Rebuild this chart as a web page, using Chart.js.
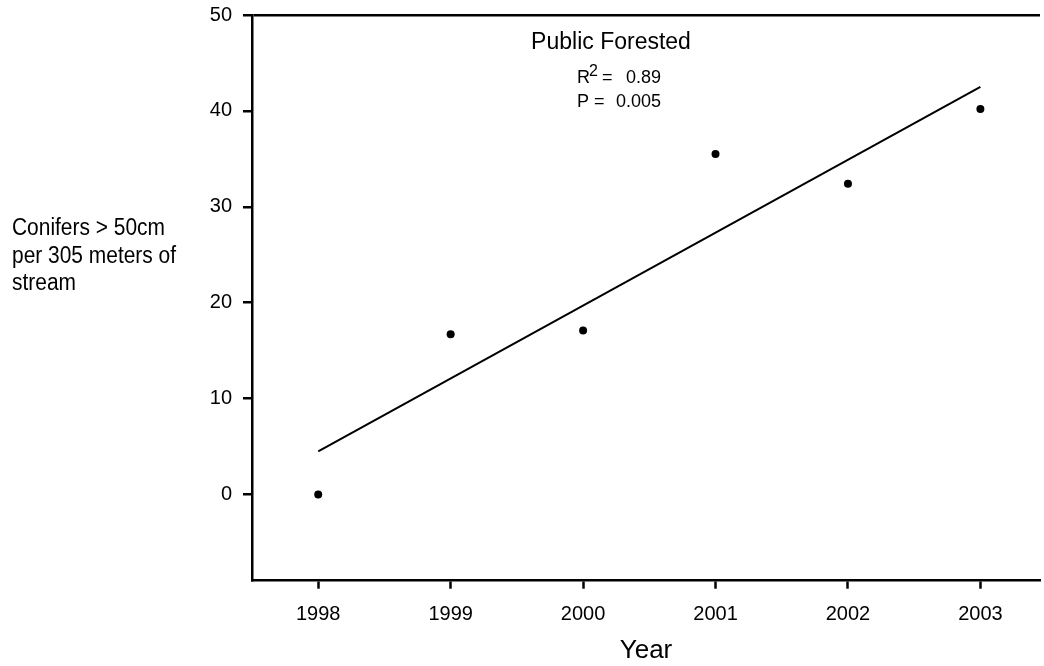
<!DOCTYPE html>
<html>
<head>
<meta charset="utf-8">
<script src="https://cdn.jsdelivr.net/npm/chart.js@4.4.0/dist/chart.umd.min.js"></script>
<style>
  body { margin: 0; background: #fff; }
  canvas { display: block; }
</style>
</head>
<body>
<canvas id="chart" width="1044" height="666"></canvas>
<script>
// data
const years = [1998, 1999, 2000, 2001, 2002, 2003];
const conifers = [0, 16.7, 17.1, 35.5, 32.4, 40.2];
const fitYears = [1998, 2003];
const fitValues = [4.5, 42.5];
const xTicks = [1998, 1999, 2000, 2001, 2002, 2003];
const yTicks = [0, 10, 20, 30, 40, 50];
const yTitleLines = ['Conifers > 50cm', 'per 305 meters of', 'stream'];

Chart.defaults.font.family = '"Liberation Sans", Arial, sans-serif';
Chart.defaults.color = '#000';

// text that is not an axis: y label (horizontal, 3 lines) and the stats box
const textPlugin = {
    id: 'textPlugin',
    afterDraw(chart) {
        const ctx = chart.ctx;
        ctx.save();
        ctx.fillStyle = '#000';
        ctx.textBaseline = 'alphabetic';

        // y-axis label, squeezed to look like a narrow face
        ctx.save();
        ctx.translate(12, 0);
        ctx.scale(0.91, 1);
        ctx.font = '23px "Liberation Sans", Arial, sans-serif';
        ctx.textAlign = 'left';
        yTitleLines.forEach((line, i) => ctx.fillText(line, 0, 235 + i * 27.5));
        ctx.restore();

        // stats
        ctx.font = '23px "Liberation Sans", Arial, sans-serif';
        ctx.textAlign = 'center';
        ctx.fillText('Public Forested', 611, 49);

        ctx.font = '18px "Liberation Sans", Arial, sans-serif';
        ctx.textAlign = 'left';
        ctx.fillText('R', 577, 83);
        ctx.font = '16px "Liberation Sans", Arial, sans-serif';
        ctx.fillText('2', 589, 76);
        ctx.font = '18px "Liberation Sans", Arial, sans-serif';
        ctx.fillText('=', 602, 83);
        ctx.textAlign = 'right';
        ctx.fillText('0.89', 661, 83);
        ctx.textAlign = 'left';
        ctx.fillText('P', 577, 107);
        ctx.fillText('=', 594, 107);
        ctx.textAlign = 'right';
        ctx.fillText('0.005', 661, 107);
        ctx.restore();
    }
};

new Chart(document.getElementById('chart'), {
    type: 'scatter',
    data: {
        datasets: [
            {
                data: years.map((y, i) => ({ x: y, y: conifers[i] })),
                backgroundColor: '#000',
                borderColor: '#000',
                pointRadius: 4,
                pointBorderWidth: 0
            },
            {
                type: 'line',
                data: fitYears.map((y, i) => ({ x: y, y: fitValues[i] })),
                borderColor: '#000',
                borderWidth: 2,
                pointRadius: 0,
                fill: false
            }
        ]
    },
    options: {
        responsive: false,
        animation: false,
        layout: { padding: { top: 15, left: 0, right: 0, bottom: 0 } },
        plugins: {
            legend: { display: false },
            tooltip: { enabled: false }
        },
        scales: {
            x: {
                type: 'linear',
                min: 1997.5,
                max: 2003.45,
                afterBuildTicks: scale => { scale.ticks = xTicks.map(v => ({ value: v })); },
                afterFit: scale => {
                    scale.height = 85.3;
                    scale.paddingLeft = 0;
                    scale.paddingRight = 0;
                },
                border: { display: true, color: '#000', width: 2.5 },
                grid: { drawOnChartArea: false, tickLength: 8, tickColor: '#000', tickWidth: 2.5 },
                ticks: {
                    padding: 14,
                    font: { size: 20 },
                    callback: v => String(v)
                },
                title: {
                    display: true,
                    text: 'Year',
                    font: { size: 26 },
                    padding: { top: 0, bottom: 0 }
                }
            },
            y: {
                min: -9,
                max: 50,
                afterBuildTicks: scale => { scale.ticks = yTicks.map(v => ({ value: v })); },
                afterFit: scale => {
                    scale.width = 252;
                    scale.paddingTop = 0;
                    scale.paddingBottom = 0;
                },
                border: { display: true, color: '#000', width: 2.5 },
                grid: {
                    // only the 50 line shows, as the frame top
                    color: c => (c.tick && c.tick.value === 50 ? '#000' : 'rgba(0,0,0,0)'),
                    lineWidth: 2.5,
                    tickLength: 9,
                    tickColor: '#000',
                    tickWidth: 2.5
                },
                ticks: {
                    padding: 11,
                    font: { size: 20 },
                    callback: v => String(v)
                }
            }
        }
    },
    plugins: [textPlugin]
});
</script>
</body>
</html>
